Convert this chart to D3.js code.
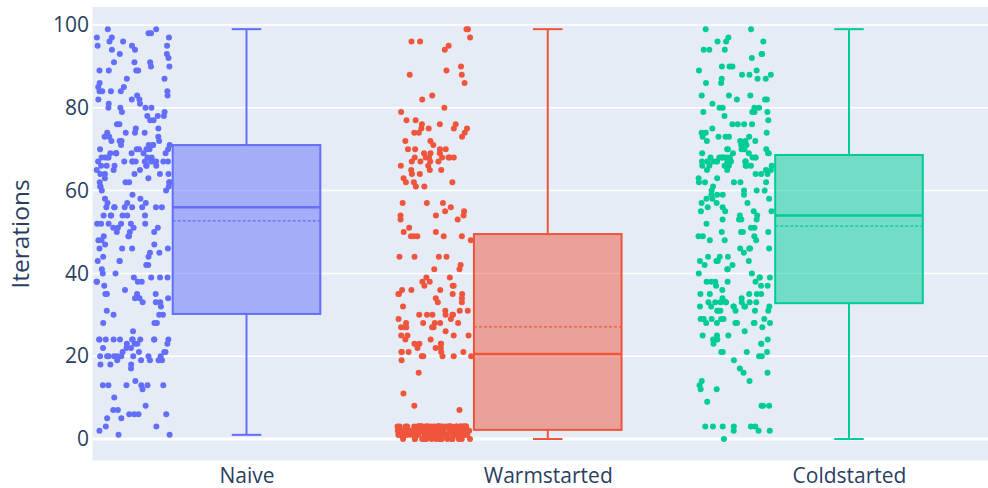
<!DOCTYPE html>
<html>
<head>
<meta charset="utf-8">
<script src="https://cdn.jsdelivr.net/npm/d3@7"></script>
<style>
  html, body { margin: 0; padding: 0; background: #fff; }
  svg { display: block; font-family: "Open Sans", "Noto Sans", sans-serif; }
</style>
</head>
<body>
<script>
// Iterations needed per run, for each start strategy
const categories = ["Naive", "Warmstarted", "Coldstarted"];
const colors = ["#636EFA", "#EF553B", "#00CC96"];

const naiveIterations = [
  99,99,98,98,97,97,97,
  96,96,95,95,95,94,94,93,93,
  91,91,90,92,91,90,89,89,89,89,
  87,87,86,85,85,
  84,83,84,84,84,84,83,81,82,82,82,81,80,80,80,80,
  79,79,78,77,78,78,77,76,76,
  75,75,73,74,73,73,74,74,74,
  72,71,71,72,71,72,71,72,71,70,69,69,70,70,70,70,70,
  69,68,67,68,67,69,68,69,68,69,68,67,66,67,66,67,67,67,67,67,68,69,67,67,66,66,66,66,65,65,65,
  63,63,64,64,64,64,64,62,62,62,61,62,62,61,
  61,60,60,59,58,58,57,57,56,
  56,56,56,56,57,56,56,56,54,54,54,54,54,54,
  52,52,52,51,52,52,52,51,50,51,51,
  50,50,49,49,47,48,48,47,49,
  46,44,44,45,46,46,46,45,43,42,43,42,43,
  41,40,40,39,38,39,39,39,38,37,38,38,
  36,35,35,35,34,35,34,
  33,32,31,33,33,34,30,30,30,
  28,28,28,26,
  24,24,24,24,24,24,24,24,24,24,23,22,23,22,22,23,23,24,
  21,20,20,20,20,20,20,20,19,21,20,20,21,19,18,19,19,19,21,
  17,18,18,
  13,13,13,13,13,13,14,12,10,
  8,6,6,7,5,6,6,7,5,
  3,3,1,1,2
];

const warmstartedIterations = [
  99,99,97,96,96,95,94,
  90,89,88,88,86,83,82,
  80,79,77,77,76,76,75,75,75,75,76,74,74,74,73,72,72,71,70,70,70,70,69,69,69,
  68,68,68,68,68,68,68,67,67,67,67,66,66,65,65,65,64,63,64,62,62,62,61,61,
  57,57,57,56,55,55,54,54,54,53,53,51,49,49,50,49,
  49,49,50,48,44,44,44,44,42,41,41,39,39,38,38,37,37,37,36,36,35,35,35,35,34,34,36,33,33,32,
  31,30,30,30,31,31,30,30,30,29,29,28,28,28,28,28,27,27,27,27,26,25,25,25,24,24,23,23,22,
  23,23,22,22,21,21,21,21,21,20,20,20,20,20,19,27,25,
  16,11,8,7,
  0,0,0,0,0,0,0,0,0,0,0,0,0,0,0,0,0,0,
  1,1,1,1,1,1,1,1,1,1,1,1,1,1,1,1,1,1,
  1,1,1,1,1,1,1,1,1,1,1,1,1,1,1,1,1,1,
  2,2,2,2,2,2,2,2,2,2,2,2,2,2,2,
  2,2,2,2,2,2,2,2,2,2,2,2,2,2,2,
  2,2,2,2,2,2,2,2,2,2,2,2,2,2,2,
  3,3,3,3,3,3,3,3,3,3,3,3,3,3,3,3,3,3,3,3,
  3,3,3,3,3,3,3,3,3,3,3,3,3,3,3,3,3,3,3,3
];

const coldstartedIterations = [
  99,99,96,96,96,97,94,94,94,93,92,93,90,90,90,89,89,88,88,88,87,87,87,86,86,
  83,83,82,83,82,81,82,80,80,80,80,79,79,79,79,78,77,76,76,76,74,76,74,75,73,73,74,73,73,
  72,72,72,72,73,71,71,70,70,70,70,70,69,69,69,69,69,
  68,68,68,68,68,68,68,68,68,68,
  67,67,67,67,67,67,67,67,67,67,
  66,66,66,66,66,66,66,66,65,65,65,65,
  64,63,63,64,64,62,62,62,62,62,61,60,60,60,60,59,59,59,59,
  58,57,57,58,57,58,56,55,55,55,56,55,53,53,54,53,54,51,51,49,50,50,52,53,
  49,49,50,50,48,48,48,46,45,46,46,46,44,44,43,43,43,43,44,42,42,41,41,40,40,
  39,39,38,38,38,38,39,38,37,37,37,36,35,35,35,35,35,34,34,
  33,33,33,33,33,33,33,33,32,32,32,32,32,32,32,31,31,31,31,31,31,
  29,29,28,28,29,29,29,29,28,28,28,28,28,27,26,25,25,24,24,25,24,23,23,23,
  21,21,21,21,20,20,19,16,17,16,14,14,13,12,12,8,8,9,8,
  2,3,2,3,3,3,3,3,2,0
];

// Box summary per category
const lowerWhisker = [1, 0, 0];
const q1 = [30.2, 2.2, 32.8];
const median = [56, 20.5, 54];
const q3 = [71, 49.5, 68.6];
const upperWhisker = [99, 99, 99];
const mean = [52.7, 27.1, 51.4];

const yTicks = [0, 20, 40, 60, 80, 100];
const yTitle = "Iterations";

const W = 988, H = 488;
const area = { left: 92.5, top: 7, right: 988, bottom: 460.5 };
const ink = "#2a3f5f";

const svg = d3.select("body").append("svg").attr("width", W).attr("height", H);

const y = d3.scaleLinear().domain([-5.2, 104.35]).range([area.bottom, area.top]);
const x = d3.scalePoint().domain(categories).range([246.5, 849]);
const step = x.step();
const boxW = step * 0.49;
const capW = boxW * 0.2;
const pointOffset = -step * 0.377;
const jitterHalf = step * 0.123;

// plotting background
svg.append("rect")
  .attr("x", area.left).attr("y", area.top)
  .attr("width", area.right - area.left).attr("height", area.bottom - area.top)
  .attr("fill", "#E5ECF6");

// horizontal grid
svg.append("g").selectAll("line").data(yTicks).join("line")
  .attr("x1", area.left).attr("x2", area.right)
  .attr("y1", d => y(d)).attr("y2", d => y(d))
  .attr("stroke", "#fff")
  .attr("stroke-width", d => d === 0 ? 3 : 1.5);

// y axis labels
const yAxis = d3.axisLeft(y).tickValues(yTicks).tickSize(0).tickPadding(0);
const gy = svg.append("g").attr("transform", `translate(${area.left - 3.5},0)`).call(yAxis);
gy.select(".domain").remove();
gy.selectAll("text").attr("font-size", 21).attr("fill", ink)
  .attr("font-family", "'Open Sans', sans-serif");

svg.append("text")
  .attr("transform", `translate(28.5,${(y(0) + y(100)) / 2 + 2}) rotate(-90)`)
  .attr("text-anchor", "middle")
  .attr("font-size", 24.5).attr("fill", ink)
  .text(yTitle);

// x axis labels
const xAxis = d3.axisBottom(x).tickSize(0).tickPadding(0);
const gx = svg.append("g").attr("transform", `translate(0,${area.bottom})`).call(xAxis);
gx.select(".domain").remove();
gx.selectAll("text").attr("font-size", 21).attr("fill", ink)
  .attr("font-family", "'Open Sans', sans-serif")
  .attr("dy", null).attr("y", 22);

const series = [naiveIterations, warmstartedIterations, coldstartedIterations];

categories.forEach((cat, i) => {
  const cx = x(cat);
  const col = colors[i];
  const g = svg.append("g");

  // whiskers
  g.append("line").attr("x1", cx).attr("x2", cx)
    .attr("y1", y(q3[i])).attr("y2", y(upperWhisker[i]))
    .attr("stroke", col).attr("stroke-width", 2);
  g.append("line").attr("x1", cx).attr("x2", cx)
    .attr("y1", y(q1[i])).attr("y2", y(lowerWhisker[i]))
    .attr("stroke", col).attr("stroke-width", 2);
  [upperWhisker[i], lowerWhisker[i]].forEach(v => {
    g.append("line").attr("x1", cx - capW / 2).attr("x2", cx + capW / 2)
      .attr("y1", y(v)).attr("y2", y(v))
      .attr("stroke", col).attr("stroke-width", 2);
  });

  // box
  g.append("rect")
    .attr("x", cx - boxW / 2).attr("y", y(q3[i]))
    .attr("width", boxW).attr("height", y(q1[i]) - y(q3[i]))
    .attr("fill", col).attr("fill-opacity", 0.5)
    .attr("stroke", col).attr("stroke-width", 2);

  // median
  g.append("line").attr("x1", cx - boxW / 2).attr("x2", cx + boxW / 2)
    .attr("y1", y(median[i])).attr("y2", y(median[i]))
    .attr("stroke", col).attr("stroke-width", 2.5);

  // mean (dashed)
  g.append("line").attr("x1", cx - boxW / 2).attr("x2", cx + boxW / 2)
    .attr("y1", y(mean[i])).attr("y2", y(mean[i]))
    .attr("stroke", col).attr("stroke-width", 1.3)
    .attr("stroke-dasharray", "3,2");

  // all points, jittered beside the box
  const rnd = d3.randomLcg(0.137 + i * 0.291);
  const px = cx + pointOffset;
  g.append("g").selectAll("circle").data(series[i]).join("circle")
    .attr("cx", () => px + (rnd() * 2 - 1) * jitterHalf)
    .attr("cy", d => y(d))
    .attr("r", 3)
    .attr("fill", col);
});
</script>
</body>
</html>
